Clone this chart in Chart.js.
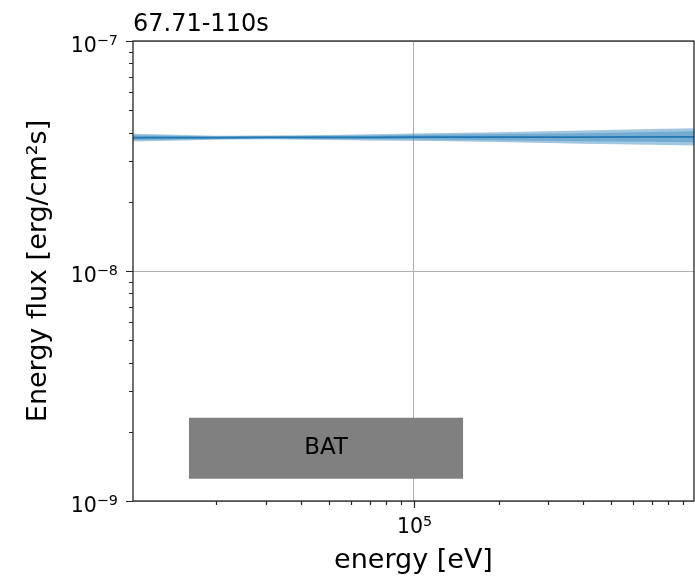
<!DOCTYPE html>
<html>
<head>
<meta charset="utf-8">
<script src="https://cdn.jsdelivr.net/npm/chart.js@4/dist/chart.umd.min.js"></script>
<style>
  body { margin: 0; background: #fff; }
  #c { display: block; }
</style>
</head>
<body>
<canvas id="c" width="695" height="577"></canvas>
<script>
// Values (energy in eV, flux in erg/cm2/s)
var energies = [10150, 20000, 30000, 50000, 70000, 100000, 200000, 400000, 700000, 985000];
var fluxMid  = [3.80e-8, 3.80e-8, 3.81e-8, 3.81e-8, 3.81e-8, 3.82e-8, 3.82e-8, 3.82e-8, 3.83e-8, 3.83e-8];
var outerHi  = [3.947e-8, 3.877e-8, 3.879e-8, 3.906e-8, 3.930e-8, 3.964e-8, 4.016e-8, 4.077e-8, 4.141e-8, 4.179e-8];
var outerLo  = [3.658e-8, 3.725e-8, 3.742e-8, 3.716e-8, 3.694e-8, 3.681e-8, 3.634e-8, 3.579e-8, 3.542e-8, 3.510e-8];
var innerHi  = [3.892e-8, 3.848e-8, 3.852e-8, 3.869e-8, 3.883e-8, 3.909e-8, 3.940e-8, 3.976e-8, 4.019e-8, 4.047e-8];
var innerLo  = [3.710e-8, 3.753e-8, 3.768e-8, 3.751e-8, 3.738e-8, 3.733e-8, 3.703e-8, 3.670e-8, 3.650e-8, 3.625e-8];

// instrument band box
var batName = 'BAT';
var batEnergy = [16000, 150000];
var batFlux = [1.25e-9, 2.30e-9];

var titleText = '67.71-110s';
var xTitle = 'energy [eV]';
var yTitle = 'Energy flux [erg/cm²s]';

var xRange = [10150, 985000];
var yRange = [1e-9, 1e-7];
// major ticks and their labels as base + exponent (drawn like mathtext)
var xMajorTicks = [1e5];
var xTickExp = ['5'];
var yMajorTicks = [1e-9, 1e-8, 1e-7];
var yTickExp = ['\u22129', '\u22128', '\u22127'];

var FONT = "'DejaVu Sans', sans-serif";
var BLUE = '#1f77b4';
var TICK_SIZE = 20.5;

function toPoints(xs, ys) {
    var pts = [];
    for (var i = 0; i < xs.length; i++) {
        pts.push({x: xs[i], y: ys[i]});
    }
    return pts;
}

function isMajor(v, majors) {
    return majors.some(function (t) { return Math.abs(t - v) / t < 1e-6; });
}

// log ticks: 1..9 per decade inside range, majors flagged
function logTicks(min, max, majors) {
    var out = [];
    var d0 = Math.floor(Math.log10(min));
    var d1 = Math.ceil(Math.log10(max));
    for (var d = d0; d <= d1; d++) {
        for (var m = 1; m < 10; m++) {
            var v = m * Math.pow(10, d);
            if (v < min * 0.999 || v > max * 1.001) continue;
            out.push({value: v, major: isMajor(v, majors)});
        }
    }
    return out;
}

function gridColor(ctx) {
    return (ctx.tick && ctx.tick.major) ? '#b0b0b0' : 'rgba(0,0,0,0)';
}

// "10" with raised exponent; x is anchor, align 'right' or 'center'
function drawPow(ctx, exp, x, baseline, align) {
    var big = TICK_SIZE + 'px ' + FONT;
    var small = (TICK_SIZE * 0.7) + 'px ' + FONT;
    ctx.font = big;
    var w1 = ctx.measureText('10').width;
    ctx.font = small;
    var w2 = ctx.measureText(exp).width;
    var left = align === 'right' ? x - w1 - w2 : x - (w1 + w2) / 2;
    ctx.textAlign = 'left';
    ctx.textBaseline = 'alphabetic';
    ctx.font = big;
    ctx.fillText('10', left, baseline);
    ctx.font = small;
    ctx.fillText(exp, left + w1, baseline - 7.5);
}

// frame, tick marks, tick labels, title and box label
var decor = {
    id: 'decor',
    afterDatasetsDraw: function (chart) {
        var ctx = chart.ctx, x = chart.scales.x, y = chart.scales.y;
        var cx = x.getPixelForValue(Math.sqrt(batEnergy[0] * batEnergy[1]));
        var cy = (y.getPixelForValue(batFlux[0]) + y.getPixelForValue(batFlux[1])) / 2;
        ctx.save();
        ctx.fillStyle = '#000';
        ctx.font = '23px ' + FONT;
        ctx.textAlign = 'center';
        ctx.textBaseline = 'middle';
        ctx.fillText(batName, cx, cy);
        ctx.restore();
    },
    afterDraw: function (chart) {
        var ctx = chart.ctx, a = chart.chartArea;
        var x = chart.scales.x, y = chart.scales.y;
        ctx.save();
        ctx.strokeStyle = '#262626';
        ctx.lineWidth = 1.2;
        ctx.beginPath();
        x.ticks.forEach(function (t) {
            var px = Math.round(x.getPixelForValue(t.value)) + 0.5;
            ctx.moveTo(px, a.bottom);
            ctx.lineTo(px, a.bottom + (t.major ? 7 : 4));
        });
        y.ticks.forEach(function (t) {
            var py = Math.round(y.getPixelForValue(t.value)) + 0.5;
            ctx.moveTo(a.left, py);
            ctx.lineTo(a.left - (t.major ? 7 : 4), py);
        });
        ctx.stroke();
        ctx.lineWidth = 1.3;
        ctx.strokeRect(a.left, a.top, a.right - a.left, a.bottom - a.top);

        ctx.fillStyle = '#000';
        xMajorTicks.forEach(function (v, i) {
            drawPow(ctx, xTickExp[i], x.getPixelForValue(v) + 1, a.bottom + 32, 'center');
        });
        yMajorTicks.forEach(function (v, i) {
            drawPow(ctx, yTickExp[i], a.left - 15, y.getPixelForValue(v) + 11, 'right');
        });

        ctx.font = '24px ' + FONT;
        ctx.textAlign = 'left';
        ctx.textBaseline = 'alphabetic';
        ctx.fillText(titleText, a.left, 31);
        ctx.restore();
    }
};

var ctx = document.getElementById('c').getContext('2d');
var chart = new Chart(ctx, {
    type: 'line',
    data: {
        datasets: [
            { data: toPoints(energies, outerHi), fill: '+1', backgroundColor: 'rgba(31,119,180,0.42)', borderWidth: 0, pointRadius: 0 },
            { data: toPoints(energies, outerLo), fill: false, borderWidth: 0, pointRadius: 0 },
            { data: toPoints(energies, innerHi), fill: '+1', backgroundColor: 'rgba(31,119,180,0.35)', borderWidth: 0, pointRadius: 0 },
            { data: toPoints(energies, innerLo), fill: false, borderWidth: 0, pointRadius: 0 },
            { data: toPoints(energies, fluxMid), fill: false, borderColor: BLUE, borderWidth: 1.8, pointRadius: 0 },
            { data: toPoints(batEnergy, [batFlux[1], batFlux[1]]), fill: '+1', backgroundColor: '#808080', borderWidth: 0, pointRadius: 0 },
            { data: toPoints(batEnergy, [batFlux[0], batFlux[0]]), fill: false, borderWidth: 0, pointRadius: 0 }
        ]
    },
    options: {
        responsive: false,
        animation: false,
        devicePixelRatio: 1,
        layout: { padding: { top: 41, right: 1, left: 0, bottom: 0 } },
        plugins: { legend: { display: false }, tooltip: { enabled: false }, title: { display: false } },
        elements: { line: { tension: 0 } },
        scales: {
            x: {
                type: 'logarithmic',
                min: xRange[0],
                max: xRange[1],
                afterBuildTicks: function (s) { s.ticks = logTicks(xRange[0], xRange[1], xMajorTicks); },
                afterFit: function (s) { s.height = 76; },
                grid: { color: gridColor, lineWidth: 1, drawTicks: false },
                border: { display: false },
                ticks: { autoSkip: false, maxRotation: 0, callback: function () { return ''; } },
                title: { display: true, text: xTitle, color: '#000', font: { family: FONT, size: 27 }, padding: { top: 0, bottom: 0 } }
            },
            y: {
                type: 'logarithmic',
                min: yRange[0],
                max: yRange[1],
                afterBuildTicks: function (s) { s.ticks = logTicks(yRange[0], yRange[1], yMajorTicks); },
                afterFit: function (s) { s.width = 133; },
                grid: { color: gridColor, lineWidth: 1, drawTicks: false },
                border: { display: false },
                ticks: { autoSkip: false, callback: function () { return ''; } },
                title: { display: true, text: yTitle, color: '#000', font: { family: FONT, size: 27 }, padding: { top: 23, bottom: 0 } }
            }
        }
    },
    plugins: [decor]
});
</script>
</body>
</html>
